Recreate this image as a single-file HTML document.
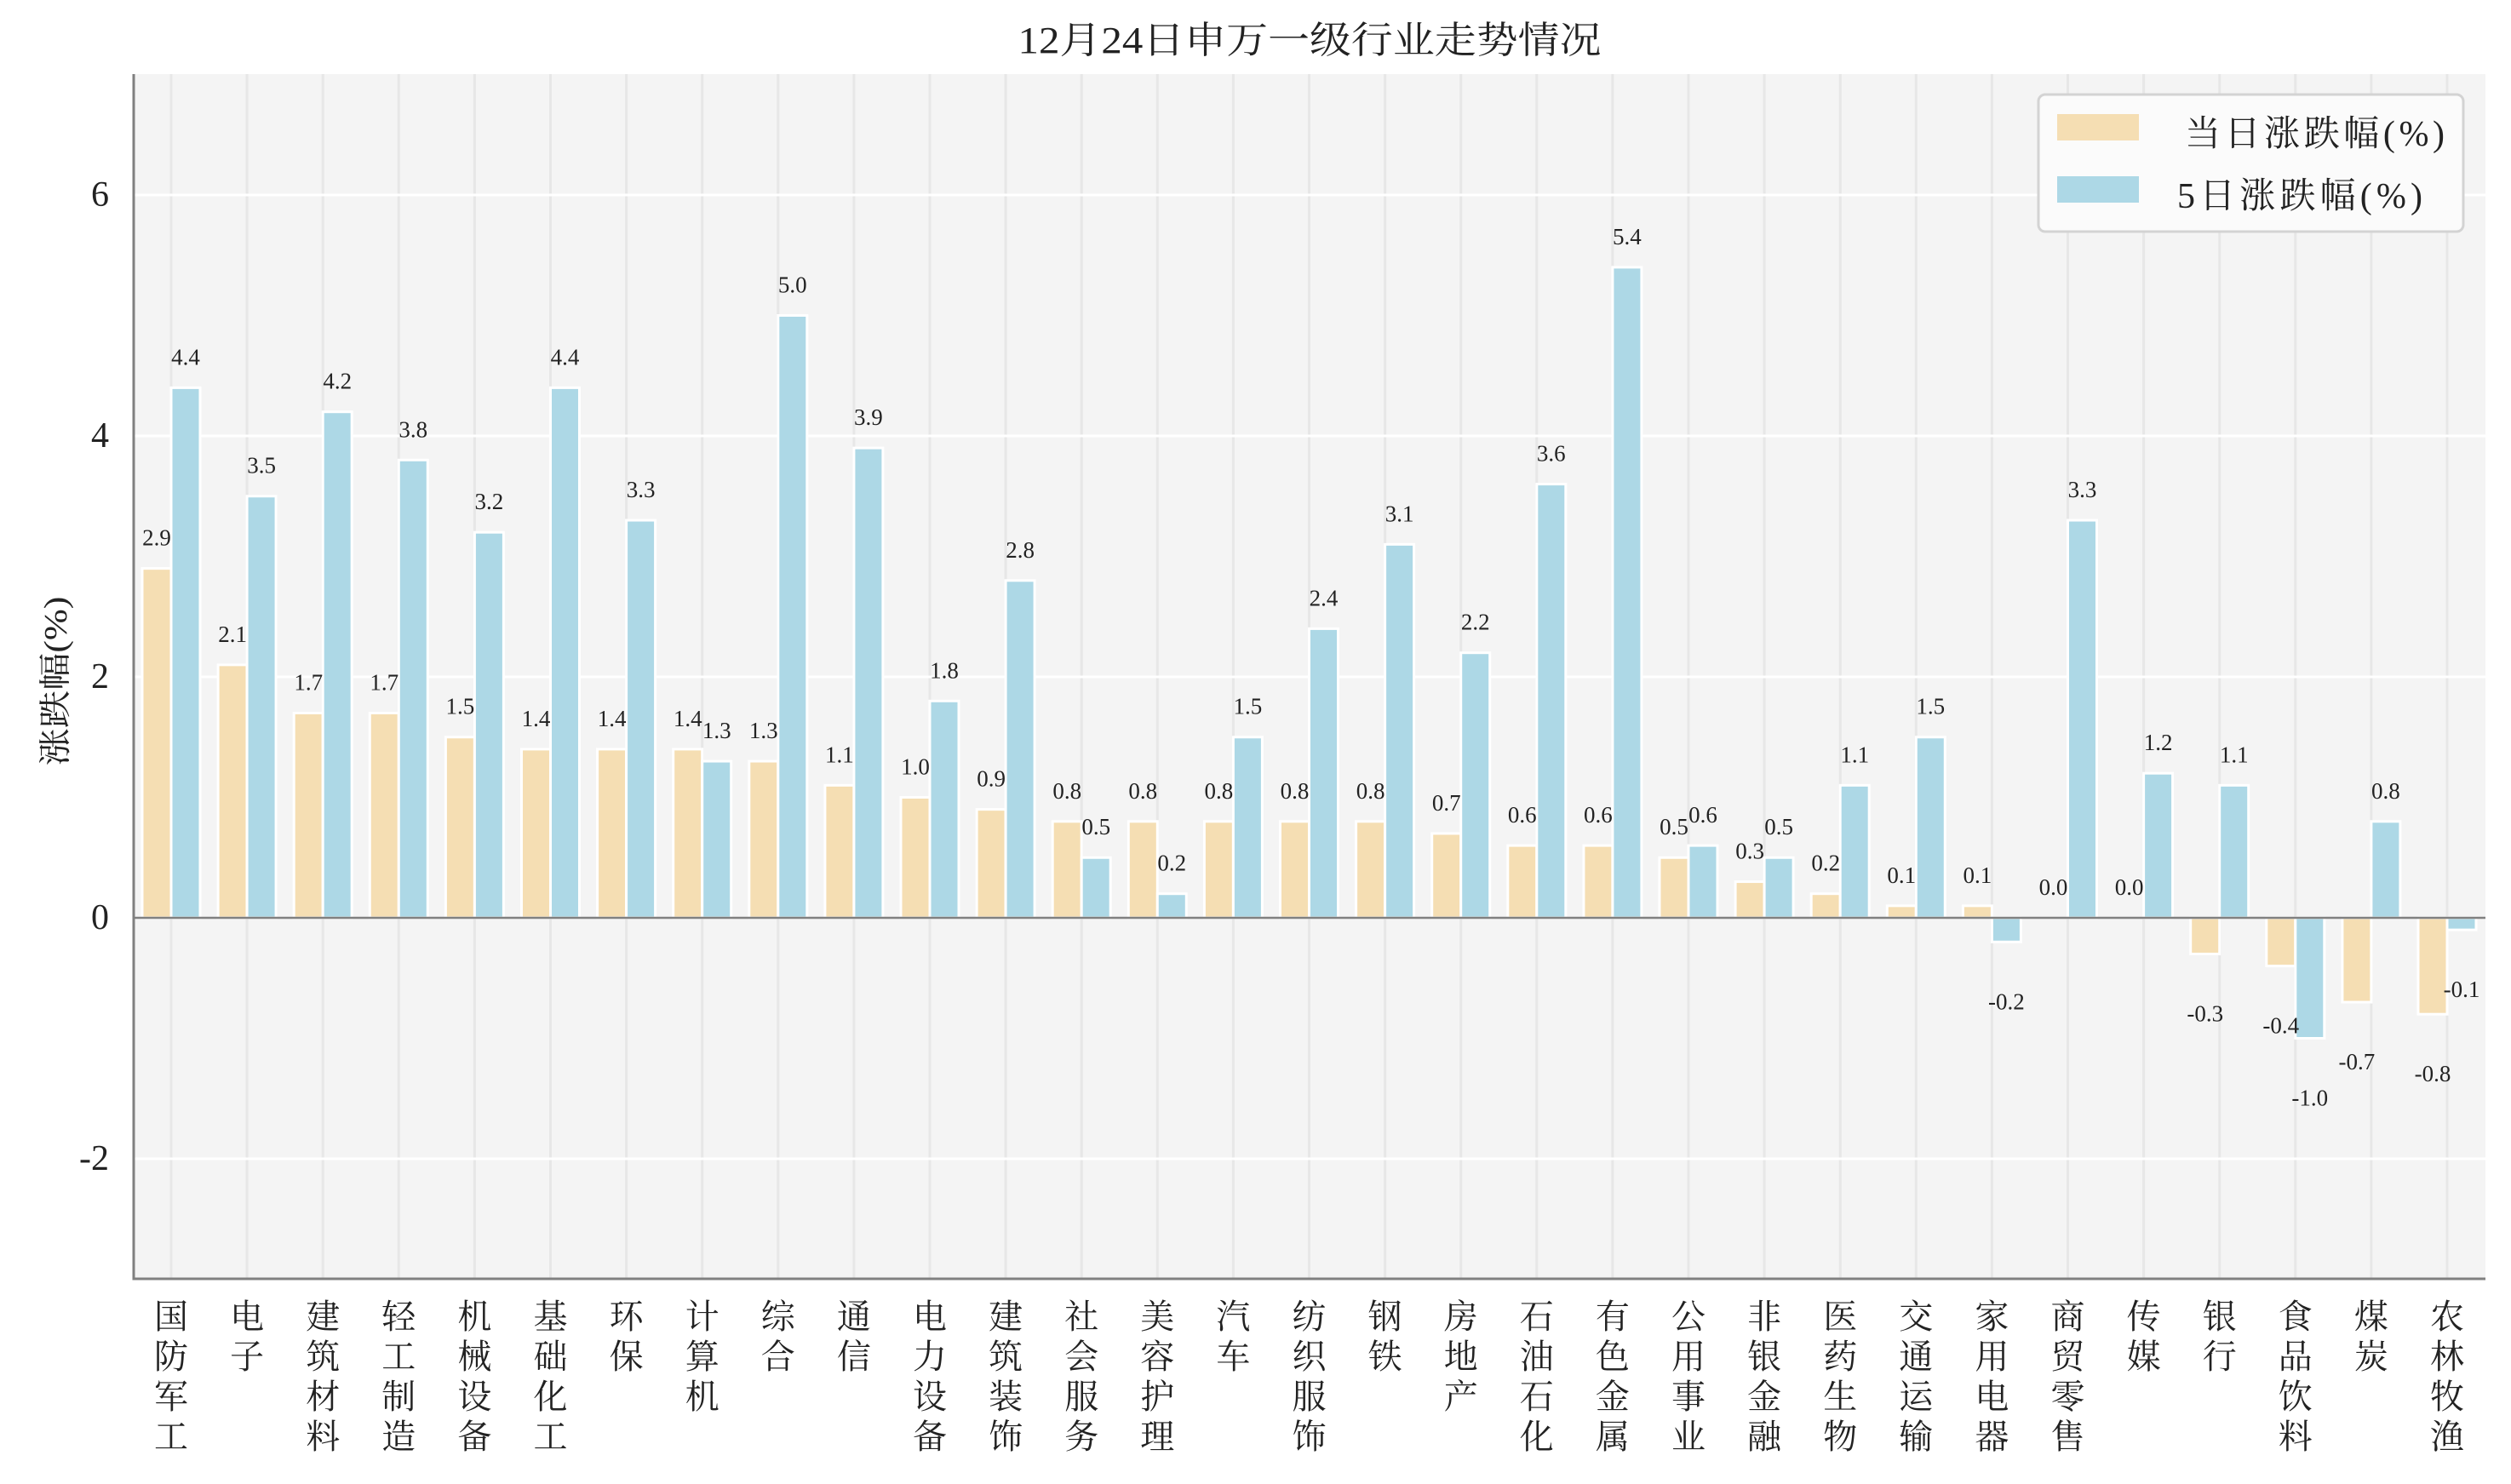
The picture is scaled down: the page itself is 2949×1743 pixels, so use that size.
<!DOCTYPE html>
<html><head><meta charset="utf-8"><style>
html,body{margin:0;padding:0;background:#fff}
svg{display:block}
text{font-family:"Liberation Serif","Noto Serif CJK SC",serif;fill:#222}
.v{font-size:27px;text-anchor:middle}
.xl{font-size:40px;text-anchor:middle}
.o{fill:#f5deb3;stroke:#fff;stroke-width:3}
.b{fill:#add8e6;stroke:#fff;stroke-width:3}
</style></head><body>
<svg width="2949" height="1743" viewBox="0 0 2949 1743" xmlns="http://www.w3.org/2000/svg">
<rect x="157" y="87" width="2762" height="1415" fill="#f4f4f4"/>
<g stroke="#e7e7e7" stroke-width="3">
<line x1="201" y1="87" x2="201" y2="1502"/><line x1="290.1" y1="87" x2="290.1" y2="1502"/><line x1="379.2" y1="87" x2="379.2" y2="1502"/><line x1="468.3" y1="87" x2="468.3" y2="1502"/><line x1="557.4" y1="87" x2="557.4" y2="1502"/><line x1="646.5" y1="87" x2="646.5" y2="1502"/><line x1="735.6" y1="87" x2="735.6" y2="1502"/><line x1="824.7" y1="87" x2="824.7" y2="1502"/><line x1="913.8" y1="87" x2="913.8" y2="1502"/><line x1="1002.9" y1="87" x2="1002.9" y2="1502"/><line x1="1092" y1="87" x2="1092" y2="1502"/><line x1="1181.1" y1="87" x2="1181.1" y2="1502"/><line x1="1270.2" y1="87" x2="1270.2" y2="1502"/><line x1="1359.3" y1="87" x2="1359.3" y2="1502"/><line x1="1448.4" y1="87" x2="1448.4" y2="1502"/><line x1="1537.5" y1="87" x2="1537.5" y2="1502"/><line x1="1626.6" y1="87" x2="1626.6" y2="1502"/><line x1="1715.7" y1="87" x2="1715.7" y2="1502"/><line x1="1804.8" y1="87" x2="1804.8" y2="1502"/><line x1="1893.9" y1="87" x2="1893.9" y2="1502"/><line x1="1983" y1="87" x2="1983" y2="1502"/><line x1="2072.1" y1="87" x2="2072.1" y2="1502"/><line x1="2161.2" y1="87" x2="2161.2" y2="1502"/><line x1="2250.3" y1="87" x2="2250.3" y2="1502"/><line x1="2339.4" y1="87" x2="2339.4" y2="1502"/><line x1="2428.5" y1="87" x2="2428.5" y2="1502"/><line x1="2517.6" y1="87" x2="2517.6" y2="1502"/><line x1="2606.7" y1="87" x2="2606.7" y2="1502"/><line x1="2695.8" y1="87" x2="2695.8" y2="1502"/><line x1="2784.9" y1="87" x2="2784.9" y2="1502"/><line x1="2874" y1="87" x2="2874" y2="1502"/>
</g>
<g stroke="#fff" stroke-width="3">
<line x1="157" y1="229" x2="2919" y2="229"/><line x1="157" y1="512" x2="2919" y2="512"/><line x1="157" y1="795" x2="2919" y2="795"/><line x1="157" y1="1361" x2="2919" y2="1361"/>
</g>

<g transform="translate(201,0)"><rect class="o" x="-34" y="667.65" width="34" height="410.35"/><rect class="b" x="0" y="455.4" width="34" height="622.6"/><text class="v" x="-17" y="640.6">2.9</text><text class="v" x="17" y="428.4">4.4</text></g>
<g transform="translate(290.1,0)"><rect class="o" x="-34" y="780.85" width="34" height="297.15"/><rect class="b" x="0" y="582.75" width="34" height="495.25"/><text class="v" x="-17" y="753.8">2.1</text><text class="v" x="17" y="555.7">3.5</text></g>
<g transform="translate(379.2,0)"><rect class="o" x="-34" y="837.45" width="34" height="240.55"/><rect class="b" x="0" y="483.7" width="34" height="594.3"/><text class="v" x="-17" y="810.4">1.7</text><text class="v" x="17" y="456.7">4.2</text></g>
<g transform="translate(468.3,0)"><rect class="o" x="-34" y="837.45" width="34" height="240.55"/><rect class="b" x="0" y="540.3" width="34" height="537.7"/><text class="v" x="-17" y="810.4">1.7</text><text class="v" x="17" y="513.3">3.8</text></g>
<g transform="translate(557.4,0)"><rect class="o" x="-34" y="865.75" width="34" height="212.25"/><rect class="b" x="0" y="625.2" width="34" height="452.8"/><text class="v" x="-17" y="838.7">1.5</text><text class="v" x="17" y="598.2">3.2</text></g>
<g transform="translate(646.5,0)"><rect class="o" x="-34" y="879.9" width="34" height="198.1"/><rect class="b" x="0" y="455.4" width="34" height="622.6"/><text class="v" x="-17" y="852.9">1.4</text><text class="v" x="17" y="428.4">4.4</text></g>
<g transform="translate(735.6,0)"><rect class="o" x="-34" y="879.9" width="34" height="198.1"/><rect class="b" x="0" y="611.05" width="34" height="466.95"/><text class="v" x="-17" y="852.9">1.4</text><text class="v" x="17" y="584">3.3</text></g>
<g transform="translate(824.7,0)"><rect class="o" x="-34" y="879.9" width="34" height="198.1"/><rect class="b" x="0" y="894.05" width="34" height="183.95"/><text class="v" x="-17" y="852.9">1.4</text><text class="v" x="17" y="867">1.3</text></g>
<g transform="translate(913.8,0)"><rect class="o" x="-34" y="894.05" width="34" height="183.95"/><rect class="b" x="0" y="370.5" width="34" height="707.5"/><text class="v" x="-17" y="867">1.3</text><text class="v" x="17" y="343.5">5.0</text></g>
<g transform="translate(1002.9,0)"><rect class="o" x="-34" y="922.35" width="34" height="155.65"/><rect class="b" x="0" y="526.15" width="34" height="551.85"/><text class="v" x="-17" y="895.3">1.1</text><text class="v" x="17" y="499.1">3.9</text></g>
<g transform="translate(1092,0)"><rect class="o" x="-34" y="936.5" width="34" height="141.5"/><rect class="b" x="0" y="823.3" width="34" height="254.7"/><text class="v" x="-17" y="909.5">1.0</text><text class="v" x="17" y="796.3">1.8</text></g>
<g transform="translate(1181.1,0)"><rect class="o" x="-34" y="950.65" width="34" height="127.35"/><rect class="b" x="0" y="681.8" width="34" height="396.2"/><text class="v" x="-17" y="923.6">0.9</text><text class="v" x="17" y="654.8">2.8</text></g>
<g transform="translate(1270.2,0)"><rect class="o" x="-34" y="964.8" width="34" height="113.2"/><rect class="b" x="0" y="1007.25" width="34" height="70.75"/><text class="v" x="-17" y="937.8">0.8</text><text class="v" x="17" y="980.2">0.5</text></g>
<g transform="translate(1359.3,0)"><rect class="o" x="-34" y="964.8" width="34" height="113.2"/><rect class="b" x="0" y="1049.7" width="34" height="28.3"/><text class="v" x="-17" y="937.8">0.8</text><text class="v" x="17" y="1022.7">0.2</text></g>
<g transform="translate(1448.4,0)"><rect class="o" x="-34" y="964.8" width="34" height="113.2"/><rect class="b" x="0" y="865.75" width="34" height="212.25"/><text class="v" x="-17" y="937.8">0.8</text><text class="v" x="17" y="838.7">1.5</text></g>
<g transform="translate(1537.5,0)"><rect class="o" x="-34" y="964.8" width="34" height="113.2"/><rect class="b" x="0" y="738.4" width="34" height="339.6"/><text class="v" x="-17" y="937.8">0.8</text><text class="v" x="17" y="711.4">2.4</text></g>
<g transform="translate(1626.6,0)"><rect class="o" x="-34" y="964.8" width="34" height="113.2"/><rect class="b" x="0" y="639.35" width="34" height="438.65"/><text class="v" x="-17" y="937.8">0.8</text><text class="v" x="17" y="612.3">3.1</text></g>
<g transform="translate(1715.7,0)"><rect class="o" x="-34" y="978.95" width="34" height="99.05"/><rect class="b" x="0" y="766.7" width="34" height="311.3"/><text class="v" x="-17" y="951.9">0.7</text><text class="v" x="17" y="739.7">2.2</text></g>
<g transform="translate(1804.8,0)"><rect class="o" x="-34" y="993.1" width="34" height="84.9"/><rect class="b" x="0" y="568.6" width="34" height="509.4"/><text class="v" x="-17" y="966.1">0.6</text><text class="v" x="17" y="541.6">3.6</text></g>
<g transform="translate(1893.9,0)"><rect class="o" x="-34" y="993.1" width="34" height="84.9"/><rect class="b" x="0" y="313.9" width="34" height="764.1"/><text class="v" x="-17" y="966.1">0.6</text><text class="v" x="17" y="286.9">5.4</text></g>
<g transform="translate(1983,0)"><rect class="o" x="-34" y="1007.25" width="34" height="70.75"/><rect class="b" x="0" y="993.1" width="34" height="84.9"/><text class="v" x="-17" y="980.2">0.5</text><text class="v" x="17" y="966.1">0.6</text></g>
<g transform="translate(2072.1,0)"><rect class="o" x="-34" y="1035.55" width="34" height="42.45"/><rect class="b" x="0" y="1007.25" width="34" height="70.75"/><text class="v" x="-17" y="1008.5">0.3</text><text class="v" x="17" y="980.2">0.5</text></g>
<g transform="translate(2161.2,0)"><rect class="o" x="-34" y="1049.7" width="34" height="28.3"/><rect class="b" x="0" y="922.35" width="34" height="155.65"/><text class="v" x="-17" y="1022.7">0.2</text><text class="v" x="17" y="895.3">1.1</text></g>
<g transform="translate(2250.3,0)"><rect class="o" x="-34" y="1063.85" width="34" height="14.15"/><rect class="b" x="0" y="865.75" width="34" height="212.25"/><text class="v" x="-17" y="1036.8">0.1</text><text class="v" x="17" y="838.7">1.5</text></g>
<g transform="translate(2339.4,0)"><rect class="o" x="-34" y="1063.85" width="34" height="14.15"/><rect class="b" x="0" y="1078" width="34" height="28.3"/><text class="v" x="-17" y="1036.8">0.1</text><text class="v" x="17" y="1185.3">-0.2</text></g>
<g transform="translate(2428.5,0)"><rect class="b" x="0" y="611.05" width="34" height="466.95"/><text class="v" x="-17" y="1051">0.0</text><text class="v" x="17" y="584">3.3</text></g>
<g transform="translate(2517.6,0)"><rect class="b" x="0" y="908.2" width="34" height="169.8"/><text class="v" x="-17" y="1051">0.0</text><text class="v" x="17" y="881.2">1.2</text></g>
<g transform="translate(2606.7,0)"><rect class="o" x="-34" y="1078" width="34" height="42.45"/><rect class="b" x="0" y="922.35" width="34" height="155.65"/><text class="v" x="-17" y="1199.5">-0.3</text><text class="v" x="17" y="895.3">1.1</text></g>
<g transform="translate(2695.8,0)"><rect class="o" x="-34" y="1078" width="34" height="56.6"/><rect class="b" x="0" y="1078" width="34" height="141.5"/><text class="v" x="-17" y="1213.6">-0.4</text><text class="v" x="17" y="1298.5">-1.0</text></g>
<g transform="translate(2784.9,0)"><rect class="o" x="-34" y="1078" width="34" height="99.05"/><rect class="b" x="0" y="964.8" width="34" height="113.2"/><text class="v" x="-17" y="1256">-0.7</text><text class="v" x="17" y="937.8">0.8</text></g>
<g transform="translate(2874,0)"><rect class="o" x="-34" y="1078" width="34" height="113.2"/><rect class="b" x="0" y="1078" width="34" height="14.15"/><text class="v" x="-17" y="1270.2">-0.8</text><text class="v" x="17" y="1171.2">-0.1</text></g>

<line x1="157" y1="1078" x2="2919" y2="1078" stroke="#808080" stroke-width="2.5"/>
<line x1="157" y1="87" x2="157" y2="1503.5" stroke="#808080" stroke-width="3"/>
<line x1="155.5" y1="1502" x2="2919" y2="1502" stroke="#808080" stroke-width="3"/>

<g style="font-size:42px;text-anchor:end" dominant-baseline="central">
<text x="128" y="229">6</text><text x="128" y="512">4</text><text x="128" y="795">2</text><text x="128" y="1078">0</text><text x="128" y="1361">-2</text>
</g>
<text transform="translate(66,800) rotate(-90)" style="font-size:38px;text-anchor:middle" dominant-baseline="central" textLength="199" lengthAdjust="spacingAndGlyphs">涨跌幅(%)</text>
<text x="1538" y="62" style="font-size:44px;text-anchor:middle" textLength="685" lengthAdjust="spacingAndGlyphs">12月24日申万一级行业走势情况</text>

<g class="xl">
<text class="xl" x="201" y="1560">国</text><text class="xl" x="201" y="1607">防</text><text class="xl" x="201" y="1654">军</text><text class="xl" x="201" y="1701">工</text>
<text class="xl" x="290.1" y="1560">电</text><text class="xl" x="290.1" y="1607">子</text>
<text class="xl" x="379.2" y="1560">建</text><text class="xl" x="379.2" y="1607">筑</text><text class="xl" x="379.2" y="1654">材</text><text class="xl" x="379.2" y="1701">料</text>
<text class="xl" x="468.3" y="1560">轻</text><text class="xl" x="468.3" y="1607">工</text><text class="xl" x="468.3" y="1654">制</text><text class="xl" x="468.3" y="1701">造</text>
<text class="xl" x="557.4" y="1560">机</text><text class="xl" x="557.4" y="1607">械</text><text class="xl" x="557.4" y="1654">设</text><text class="xl" x="557.4" y="1701">备</text>
<text class="xl" x="646.5" y="1560">基</text><text class="xl" x="646.5" y="1607">础</text><text class="xl" x="646.5" y="1654">化</text><text class="xl" x="646.5" y="1701">工</text>
<text class="xl" x="735.6" y="1560">环</text><text class="xl" x="735.6" y="1607">保</text>
<text class="xl" x="824.7" y="1560">计</text><text class="xl" x="824.7" y="1607">算</text><text class="xl" x="824.7" y="1654">机</text>
<text class="xl" x="913.8" y="1560">综</text><text class="xl" x="913.8" y="1607">合</text>
<text class="xl" x="1002.9" y="1560">通</text><text class="xl" x="1002.9" y="1607">信</text>
<text class="xl" x="1092" y="1560">电</text><text class="xl" x="1092" y="1607">力</text><text class="xl" x="1092" y="1654">设</text><text class="xl" x="1092" y="1701">备</text>
<text class="xl" x="1181.1" y="1560">建</text><text class="xl" x="1181.1" y="1607">筑</text><text class="xl" x="1181.1" y="1654">装</text><text class="xl" x="1181.1" y="1701">饰</text>
<text class="xl" x="1270.2" y="1560">社</text><text class="xl" x="1270.2" y="1607">会</text><text class="xl" x="1270.2" y="1654">服</text><text class="xl" x="1270.2" y="1701">务</text>
<text class="xl" x="1359.3" y="1560">美</text><text class="xl" x="1359.3" y="1607">容</text><text class="xl" x="1359.3" y="1654">护</text><text class="xl" x="1359.3" y="1701">理</text>
<text class="xl" x="1448.4" y="1560">汽</text><text class="xl" x="1448.4" y="1607">车</text>
<text class="xl" x="1537.5" y="1560">纺</text><text class="xl" x="1537.5" y="1607">织</text><text class="xl" x="1537.5" y="1654">服</text><text class="xl" x="1537.5" y="1701">饰</text>
<text class="xl" x="1626.6" y="1560">钢</text><text class="xl" x="1626.6" y="1607">铁</text>
<text class="xl" x="1715.7" y="1560">房</text><text class="xl" x="1715.7" y="1607">地</text><text class="xl" x="1715.7" y="1654">产</text>
<text class="xl" x="1804.8" y="1560">石</text><text class="xl" x="1804.8" y="1607">油</text><text class="xl" x="1804.8" y="1654">石</text><text class="xl" x="1804.8" y="1701">化</text>
<text class="xl" x="1893.9" y="1560">有</text><text class="xl" x="1893.9" y="1607">色</text><text class="xl" x="1893.9" y="1654">金</text><text class="xl" x="1893.9" y="1701">属</text>
<text class="xl" x="1983" y="1560">公</text><text class="xl" x="1983" y="1607">用</text><text class="xl" x="1983" y="1654">事</text><text class="xl" x="1983" y="1701">业</text>
<text class="xl" x="2072.1" y="1560">非</text><text class="xl" x="2072.1" y="1607">银</text><text class="xl" x="2072.1" y="1654">金</text><text class="xl" x="2072.1" y="1701">融</text>
<text class="xl" x="2161.2" y="1560">医</text><text class="xl" x="2161.2" y="1607">药</text><text class="xl" x="2161.2" y="1654">生</text><text class="xl" x="2161.2" y="1701">物</text>
<text class="xl" x="2250.3" y="1560">交</text><text class="xl" x="2250.3" y="1607">通</text><text class="xl" x="2250.3" y="1654">运</text><text class="xl" x="2250.3" y="1701">输</text>
<text class="xl" x="2339.4" y="1560">家</text><text class="xl" x="2339.4" y="1607">用</text><text class="xl" x="2339.4" y="1654">电</text><text class="xl" x="2339.4" y="1701">器</text>
<text class="xl" x="2428.5" y="1560">商</text><text class="xl" x="2428.5" y="1607">贸</text><text class="xl" x="2428.5" y="1654">零</text><text class="xl" x="2428.5" y="1701">售</text>
<text class="xl" x="2517.6" y="1560">传</text><text class="xl" x="2517.6" y="1607">媒</text>
<text class="xl" x="2606.7" y="1560">银</text><text class="xl" x="2606.7" y="1607">行</text>
<text class="xl" x="2695.8" y="1560">食</text><text class="xl" x="2695.8" y="1607">品</text><text class="xl" x="2695.8" y="1654">饮</text><text class="xl" x="2695.8" y="1701">料</text>
<text class="xl" x="2784.9" y="1560">煤</text><text class="xl" x="2784.9" y="1607">炭</text>
<text class="xl" x="2874" y="1560">农</text><text class="xl" x="2874" y="1607">林</text><text class="xl" x="2874" y="1654">牧</text><text class="xl" x="2874" y="1701">渔</text>
</g>

<rect x="2394" y="111" width="499" height="161" rx="8" fill="#fbfbfb" stroke="#d3d3d3" stroke-width="3"/>
<rect x="2416" y="134" width="96" height="31" fill="#f5deb3"/>
<rect x="2416" y="207" width="96" height="31" fill="#add8e6"/>
<text x="2566" y="171" style="font-size:42px" textLength="305">当日涨跌幅(%)</text>
<text x="2557" y="244" style="font-size:42px" textLength="288">5日涨跌幅(%)</text>
</svg>
</body></html>
